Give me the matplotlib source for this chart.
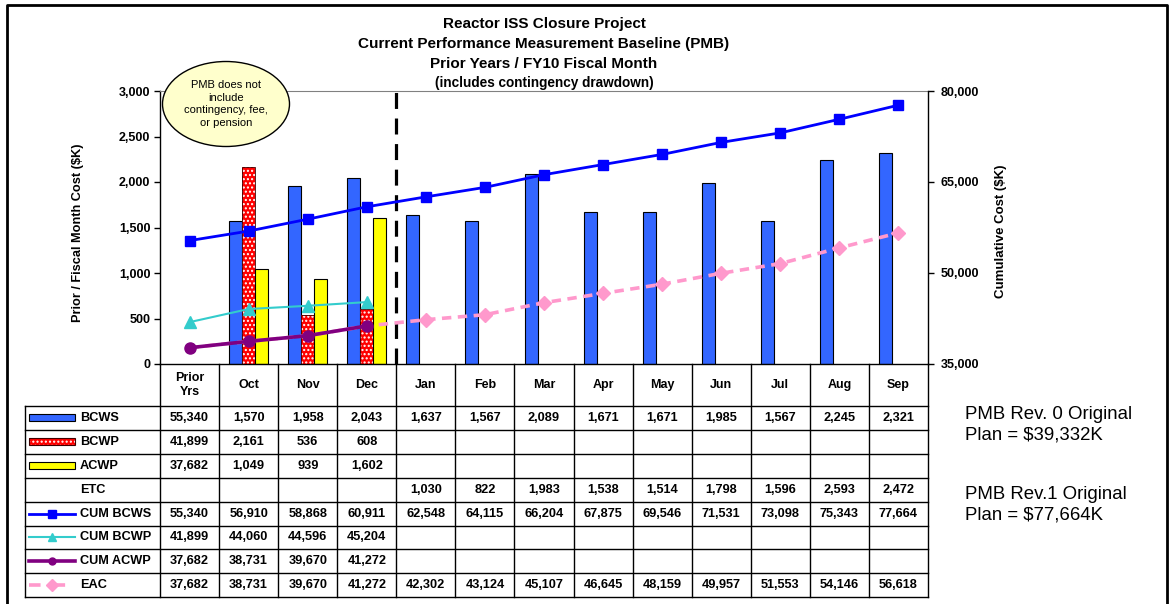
import matplotlib
matplotlib.use("Agg")
import matplotlib.pyplot as plt
import matplotlib.transforms as mtransforms
from matplotlib.patches import Rectangle, Ellipse
import numpy as np

plt.rcParams['font.family'] = ['Liberation Sans', 'DejaVu Sans']
plt.rcParams['hatch.linewidth'] = 1.0

# ---- data ----
months = ["Prior\nYrs", "Oct", "Nov", "Dec", "Jan", "Feb", "Mar",
          "Apr", "May", "Jun", "Jul", "Aug", "Sep"]
bcws = [55340, 1570, 1958, 2043, 1637, 1567, 2089, 1671, 1671, 1985, 1567, 2245, 2321]
bcwp = [41899, 2161, 536, 608]
acwp = [37682, 1049, 939, 1602]
etc = [None, None, None, None, 1030, 822, 1983, 1538, 1514, 1798, 1596, 2593, 2472]
cum_bcws = [55340, 56910, 58868, 60911, 62548, 64115, 66204, 67875, 69546, 71531,
            73098, 75343, 77664]
cum_bcwp = [41899, 44060, 44596, 45204]
cum_acwp = [37682, 38731, 39670, 41272]
eac = [37682, 38731, 39670, 41272, 42302, 43124, 45107, 46645, 48159, 49957,
       51553, 54146, 56618]

left_ticks = [0, 500, 1000, 1500, 2000, 2500, 3000]
right_ticks = [35000, 50000, 65000, 80000]

C_BCWS = '#3366FF'
C_BCWP = '#FF0000'
C_ACWP = '#FFFF00'
C_CBCWS = '#0000FF'
C_CBCWP = '#33CCCC'
C_CACWP = '#800080'
C_EAC = '#FF99CC'


def fmt(v):
    return "" if v is None else f"{v:,}"


def main():
    W, H = 1173, 604
    fig = plt.figure(figsize=(W / 100, H / 100), dpi=100)

    # pixel overlay for table, titles and frame
    ov = fig.add_axes([0, 0, 1, 1])
    ov.set_xlim(0, W)
    ov.set_ylim(H, 0)
    ov.axis('off')

    L, R, T, B = 160, 928, 91, 364
    ax = fig.add_axes([L / W, 1 - B / H, (R - L) / W, (B - T) / H])
    ax.patch.set_alpha(0)
    x = np.arange(len(months))
    ax.set_xlim(-0.5, len(months) - 0.5)
    ax.set_ylim(0, 3000)
    ax2 = ax.twinx()
    ax2.set_ylim(35000, 80000)

    # bars (monthly, prior years not drawn)
    bw = 0.22
    ax.bar(x[1:] - bw, bcws[1:], bw, color=C_BCWS, edgecolor='black', lw=0.8, zorder=2)
    n = len(bcwp)
    ax.bar(x[1:n], bcwp[1:], bw, color=C_BCWP, edgecolor='white', hatch='....', lw=0, zorder=2)
    ax.bar(x[1:n], bcwp[1:], bw, fill=False, edgecolor='#400000', lw=0.6, zorder=2)
    ax.bar(x[1:n] + bw, acwp[1:], bw, color=C_ACWP, edgecolor='black', lw=0.8, zorder=2)

    ax.axvline(3.5, ymin=0, ymax=1.012, color='black', lw=2.3,
               ls=(0, (5, 3)), clip_on=False, zorder=3)

    # cumulative lines
    ax2.plot(x, cum_bcws, color=C_CBCWS, lw=2, marker='s', ms=7, zorder=5)
    ax2.plot(x[:len(cum_bcwp)], cum_bcwp, color=C_CBCWP, lw=1.5, marker='^', ms=8, zorder=5)
    ax2.plot(x, eac, color=C_EAC, lw=2.6, ls=(0, (2.6, 1.8)), marker='D', ms=7,
             markevery=list(range(4, len(eac))), zorder=4)
    ax2.plot(x[:len(cum_acwp)], cum_acwp, color=C_CACWP, lw=2.6, marker='o', ms=8, zorder=6)

    # axes styling
    ax.set_xticks([])
    ax.set_yticks(left_ticks)
    ax.set_yticklabels([f"{v:,}" for v in left_ticks], fontweight='bold', fontsize=9)
    ax.tick_params(axis='y', direction='out', length=4, width=1, pad=3)
    ax2.set_yticks(right_ticks)
    ax2.set_yticklabels([f"{v:,}" for v in right_ticks], fontweight='bold', fontsize=9)
    ax2.tick_params(axis='y', direction='out', length=4, width=1, pad=5)
    ax.spines['right'].set_visible(False)
    ax.spines['top'].set_color('#808080')
    ax.spines['left'].set_linewidth(1)
    ax.spines['bottom'].set_linewidth(1)
    for s in ('top', 'left', 'bottom'):
        ax2.spines[s].set_visible(False)
    ax2.spines['right'].set_linewidth(1)

    ov.text(78, 233, "Prior / Fiscal Month Cost ($K)", rotation=90, ha='center',
            va='center', fontsize=9.2, fontweight='bold')
    ov.text(1001, 231, "Cumulative Cost ($K)", rotation=90, ha='center',
            va='center', fontsize=9.5, fontweight='bold')

    # titles
    title_lines = [("Reactor ISS Closure Project", 24, 11),
                   ("Current Performance Measurement Baseline (PMB)", 44, 11),
                   ("Prior Years / FY10 Fiscal Month", 64, 11),
                   ("(includes contingency drawdown)", 83, 9.8)]
    for txt, yy, fs in title_lines:
        ov.text(544, yy, txt, ha='center', va='center', fontsize=fs, fontweight='bold')

    # data table below the chart
    tr = mtransforms.blended_transform_factory(ax.transData, ov.transData)
    x_lab = ax.transData.inverted().transform(ov.transData.transform((25, 0)))[0]
    x0, x1 = -0.5, len(months) - 0.5
    hdr_top, hdr_bot = 364, 406
    row_h = 23.9
    rows = [("BCWS", bcws), ("BCWP", bcwp), ("ACWP", acwp), ("ETC", etc),
            ("CUM BCWS", cum_bcws), ("CUM BCWP", cum_bcwp),
            ("CUM ACWP", cum_acwp), ("EAC", eac)]
    bottom = hdr_bot + row_h * len(rows)
    lkw = dict(color='black', lw=1.0, transform=tr, clip_on=False)
    for k in range(len(rows) + 1):
        yy = hdr_bot + k * row_h
        ov.plot([x_lab, x1], [yy, yy], **lkw)
    for k in range(len(months) + 1):
        ov.plot([x0 + k, x0 + k], [hdr_top, bottom], **lkw)
    ov.plot([x_lab, x_lab], [hdr_bot, bottom], **lkw)

    for i, m in enumerate(months):
        ov.text(x[i], (hdr_top + hdr_bot) / 2, m, transform=tr, ha='center',
                va='center', fontsize=9, fontweight='bold', linespacing=1.3)
    for r, (name, vals) in enumerate(rows):
        yc = hdr_bot + (r + 0.5) * row_h
        for i, v in enumerate(vals):
            ov.text(x[i], yc, fmt(v), transform=tr, ha='center', va='center',
                    fontsize=9.2, fontweight='bold')
        ov.text(80, yc, name, ha='left', va='center', fontsize=9.2, fontweight='bold')

        # legend keys
        if name == "BCWS":
            ov.add_patch(Rectangle((29, yc - 3.5), 46, 7, fc=C_BCWS, ec='black', lw=0.8))
        elif name == "BCWP":
            ov.add_patch(Rectangle((29, yc - 3.5), 46, 7, fc=C_BCWP, ec='white',
                                   hatch='....', lw=0))
            ov.add_patch(Rectangle((29, yc - 3.5), 46, 7, fill=False, ec='#400000', lw=0.8))
        elif name == "ACWP":
            ov.add_patch(Rectangle((29, yc - 3.5), 46, 7, fc=C_ACWP, ec='black', lw=0.8))
        elif name == "CUM BCWS":
            ov.plot([29, 52, 75], [yc] * 3, color=C_CBCWS, lw=2, marker='s', ms=6,
                    markevery=[1])
        elif name == "CUM BCWP":
            ov.plot([29, 52, 75], [yc] * 3, color=C_CBCWP, lw=1.5, marker='^', ms=6,
                    markevery=[1])
        elif name == "CUM ACWP":
            ov.plot([29, 52, 75], [yc] * 3, color=C_CACWP, lw=2.6, marker='o', ms=5,
                    markevery=[1])
        elif name == "EAC":
            ov.plot([29, 52, 75], [yc] * 3, color=C_EAC, lw=2.6, ls=(0, (3.2, 3.6)),
                    marker='D', ms=6, markevery=[1])

    # side notes
    ov.text(965, 425, "PMB Rev. 0 Original\nPlan = $39,332K", ha='left', va='center',
            fontsize=13.4, linespacing=1.3)
    ov.text(965, 505, "PMB Rev.1 Original\nPlan = $77,664K", ha='left', va='center',
            fontsize=13.4, linespacing=1.3)

    # outer frame
    ov.plot([7, 7, 1167, 1167], [604, 5, 5, 604], color='black', lw=2, clip_on=False)

    # callout on top of everything
    top = fig.add_axes([0, 0, 1, 1], zorder=10)
    top.set_xlim(0, W)
    top.set_ylim(H, 0)
    top.axis('off')
    top.add_patch(Ellipse((226, 104), 127, 85, fc='#FFFFCC', ec='black', lw=1))
    top.text(226, 104, "PMB does not\ninclude\ncontingency, fee,\nor pension",
             ha='center', va='center', fontsize=8, linespacing=1.3)

    fig.savefig("out.png", dpi=100)


if __name__ == "__main__":
    main()
